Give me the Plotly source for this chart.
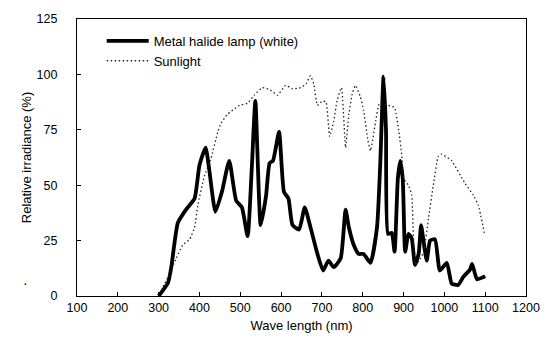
import plotly.graph_objects as go

# Metal halide lamp (white)
mh_x = [300, 323, 331, 347, 367, 388, 400, 415, 424, 439, 455, 473, 490, 504, 518, 528, 537, 550,
        563, 572, 580, 595, 607, 618, 628, 644, 658, 672, 689, 703, 716, 729, 746, 758, 766, 778,
        790, 802, 819, 835, 843, 851, 857, 862, 871, 878, 886, 892, 898, 904, 912, 920, 928, 937,
        943, 951, 957, 965, 977, 989, 1006, 1018, 1034, 1046, 1063, 1068, 1080, 1095, 1100]
mh_y = [0, 6, 13, 33, 39, 44, 59, 67, 57, 38, 47, 61, 43, 40, 27, 57, 88, 32,
        45, 60, 61, 74, 47, 44, 32, 30, 40, 31, 19, 11.5, 16, 13, 17, 39, 31, 23,
        19, 19, 15, 31, 60, 99, 75, 28, 28.5, 20, 53, 61, 53, 20, 28, 26, 14, 19,
        32, 22, 16, 25, 25.6, 11.5, 15, 5.6, 5, 8.5, 12, 14.5, 7.5, 8.5, 9]

# Sunlight
sun_x = [302, 323, 343, 359, 376, 388, 396, 412, 428, 445, 453, 469, 498, 518, 534, 554, 573, 591,
         611, 628, 648, 661, 672, 680, 689, 701, 710, 719, 729, 737, 748, 758, 766, 774, 782, 794,
         802, 813, 819, 831, 841, 863, 878, 888, 896, 900, 912, 920, 927, 932, 949, 961, 973, 985,
         993, 1018, 1050, 1071, 1083, 1098]
sun_y = [1, 8.6, 17, 23, 25.6, 31, 41, 54, 62, 74, 78, 82, 86, 87, 90.6, 94, 93, 90.6,
         95, 93.5, 94, 95.7, 99.4, 95.7, 86, 88, 87.6, 72, 78.8, 88, 94, 67, 82, 91, 95, 90,
         84, 70, 65.5, 78, 87, 86, 85, 75, 63, 53, 50, 45.5, 16, 14.5, 19.6, 35, 50, 63,
         64, 61, 51, 45.5, 41, 28.5]

x_ticks = list(range(100, 1201, 100))
y_ticks = [0, 25, 50, 75, 100, 125]

FONT = "Liberation Sans, Arial, sans-serif"

fig = go.Figure()
fig.add_trace(go.Scatter(x=mh_x, y=mh_y, mode="lines", name="Metal halide lamp (white)",
                         line=dict(color="black", width=3.8, shape="spline", smoothing=0.5)))
fig.add_trace(go.Scatter(x=sun_x, y=sun_y, mode="lines", name="Sunlight",
                         line=dict(color="#222222", width=1.3, dash="1.5px,2.5px",
                                   shape="spline", smoothing=0.4)))

fig.update_layout(
    width=552, height=349,
    margin=dict(l=77, r=26, t=14, b=53),
    paper_bgcolor="white", plot_bgcolor="white",
    font=dict(family=FONT, size=12, color="black"),
    showlegend=True,
    legend=dict(x=0.055, y=0.975, xanchor="left", yanchor="top", itemwidth=42,
                bgcolor="rgba(0,0,0,0)", font=dict(size=13), tracegroupgap=0),
    xaxis=dict(range=[100, 1200], tickvals=x_ticks, ticktext=[str(v) for v in x_ticks],
               ticks="inside", ticklen=4, tickcolor="black",
               showline=True, linecolor="black", linewidth=1.2, mirror=True,
               showgrid=False, zeroline=False, tickfont=dict(size=12.5),
               title=dict(text="Wave length (nm)", standoff=6, font=dict(size=13))),
    yaxis=dict(range=[0, 125], tickvals=y_ticks, ticktext=[str(v) for v in y_ticks],
               ticks="inside", ticklen=4, tickcolor="black",
               showline=True, linecolor="black", linewidth=1.2, mirror=True,
               showgrid=False, zeroline=False, ticklabelstandoff=16, tickfont=dict(size=12.5),
               title=dict(text="Relative irradiance (%)", standoff=1, font=dict(size=13))),
)
fig.add_annotation(xref="x domain", yref="y domain", x=(21 - 77) / 449, y=(349 - 293 - 53) / 282,
                   text="·", showarrow=False, font=dict(size=14))

fig.write_html("out.html")
